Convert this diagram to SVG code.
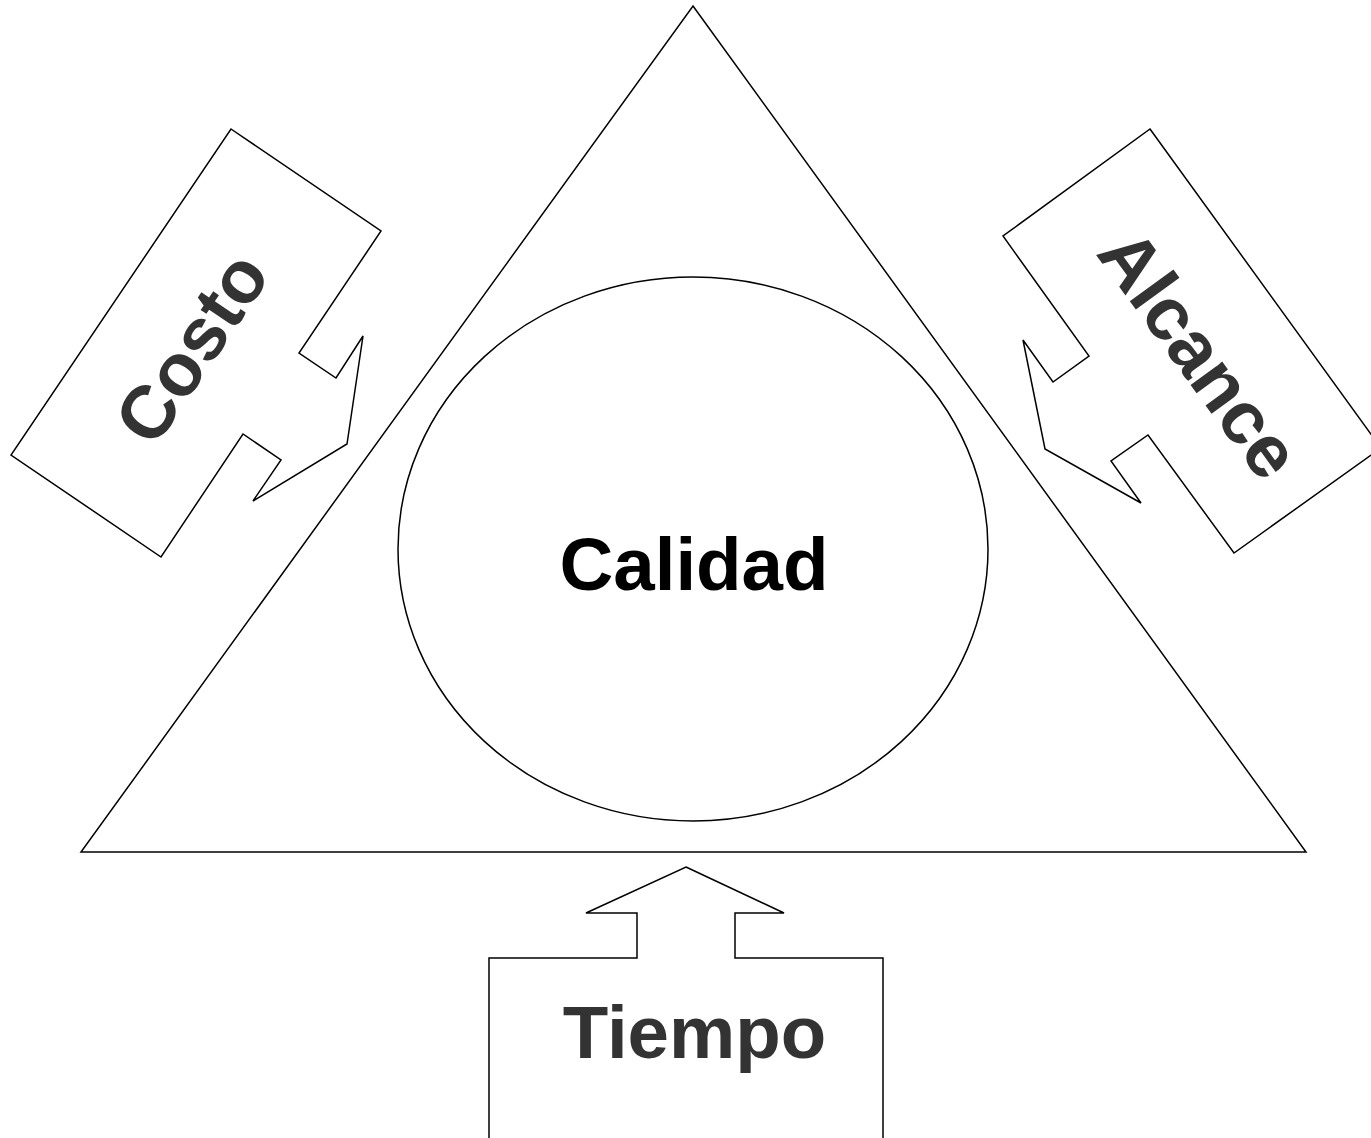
<svg xmlns="http://www.w3.org/2000/svg" width="1371" height="1138" viewBox="0 0 1371 1138">
<style>
.s{fill:#fff;stroke:#000;stroke-width:1.5;stroke-linejoin:miter}
.t{font-family:"Liberation Sans",Arial,sans-serif;font-weight:bold;font-size:74.5px;text-anchor:middle;fill:#333}
</style>
<rect width="1371" height="1138" fill="#fff"/>
<g id="triangle"><polygon class="s" points="693,6 1306,852 81,852"/></g>
<g id="calidad">
<ellipse class="s" cx="693" cy="549" rx="295" ry="272"/>
<text class="t" x="694" y="590" style="fill:#000">Calidad</text>
</g>
<g id="costo">
<polygon class="s" points="231,129 381,231 299,353 336,378 363,336 347,444 253,501 281,460 243,434 161,557 11,455"/>
<text class="t" transform="translate(213,362) rotate(-56)">Costo</text>
</g>
<g id="alcance">
<polygon class="s" points="1150,129 1381,448 1234,553 1148,435 1111,461 1141,503 1045,449 1023,340 1053,382 1089,356 1003,236"/>
<text class="t" transform="translate(1179,369) rotate(54)">Alcance</text>
</g>
<g id="tiempo">
<polygon class="s" points="686,867 784,913 735,913 735,958 883,958 883,1150 489,1150 489,958 637,958 637,913 586,913"/>
<text class="t" x="694.5" y="1058">Tiempo</text>
</g>
<g id="connectors"></g>
</svg>
